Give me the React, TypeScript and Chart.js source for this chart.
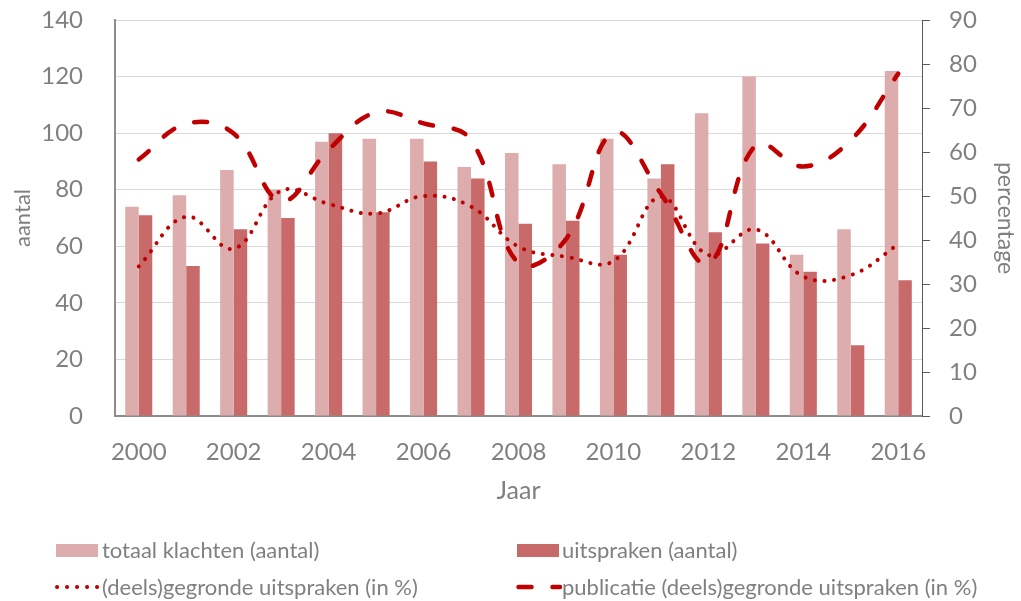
import React, { useEffect, useRef } from "react";
import { Chart, registerables } from "chart.js";

Chart.register(...registerables);

const years = ["2000","2001","2002","2003","2004","2005","2006","2007","2008","2009","2010","2011","2012","2013","2014","2015","2016"];
const totaalKlachten = [74, 78, 87, 80, 97, 98, 98, 88, 93, 89, 98, 84, 107, 120, 57, 66, 122];
const uitspraken = [71, 53, 66, 70, 100, 72, 90, 84, 68, 69, 57, 89, 65, 61, 51, 25, 48];
const gegrondePct = [34, 45.3, 38, 51.2, 48.2, 46, 50, 47.6, 38.5, 36.2, 35.2, 49.8, 36.6, 42.4, 31.7, 32, 39];
const publicatiePct = [58.3, 66.4, 64.2, 48.9, 60.5, 69, 66.5, 62.7, 34.7, 40.2, 64.4, 50.5, 34.7, 61.6, 56.7, 62.7, 77.8];
const leftTicks = [0, 20, 40, 60, 80, 100, 120, 140];
const rightTicks = [0, 10, 20, 30, 40, 50, 60, 70, 80, 90];

const LIGHT = "#DDADAD";
const DARK = "#C86A6A";
const LINE = "#C00000";
const TEXT = "#808080";
const FONT = "Lato, 'Open Sans', sans-serif";

export default function App() {
  const ref = useRef<HTMLCanvasElement | null>(null);

  useEffect(() => {
    if (!ref.current) return;
    const chart = new Chart(ref.current, {
      type: "bar",
      data: {
        labels: years,
        datasets: [
          {
            type: "line",
            label: "(deels)gegronde uitspraken (in %)",
            data: gegrondePct,
            yAxisID: "y2",
            borderColor: LINE,
            borderWidth: 4,
            borderDash: [0.1, 9.6],
            borderCapStyle: "round",
            pointRadius: 0,
            tension: 0.4,
            fill: false,
            order: 0,
          },
          {
            type: "line",
            label: "publicatie (deels)gegronde uitspraken (in %)",
            data: publicatiePct,
            yAxisID: "y2",
            borderColor: LINE,
            borderWidth: 4.5,
            borderDash: [13, 21],
            borderCapStyle: "round",
            pointRadius: 0,
            tension: 0.4,
            fill: false,
            order: 0,
          },
          {
            type: "bar",
            label: "totaal klachten (aantal)",
            data: totaalKlachten,
            yAxisID: "y",
            backgroundColor: LIGHT,
            barPercentage: 1,
            categoryPercentage: 0.57,
            order: 1,
          },
          {
            type: "bar",
            label: "uitspraken (aantal)",
            data: uitspraken,
            yAxisID: "y",
            backgroundColor: DARK,
            barPercentage: 1,
            categoryPercentage: 0.57,
            order: 1,
          },
        ],
      },
      options: {
        responsive: false,
        animation: false,
        layout: { padding: { top: 20, bottom: 95, left: 0, right: 0 } },
        plugins: {
          legend: { display: false },
          tooltip: { enabled: false },
        },
        scales: {
          x: {
            type: "category",
            offset: true,
            grid: { color: "transparent", drawTicks: false },
            border: { display: true, color: "#8C8C8C", width: 2 },
            ticks: {
              autoSkip: false,
              maxRotation: 0,
              minRotation: 0,
              padding: 22,
              color: TEXT,
              font: { family: FONT, size: 24 },
              callback: (_v: any, i: number) => (i % 2 === 0 ? years[i] : ""),
            },
            title: {
              display: true,
              text: "Jaar",
              color: TEXT,
              font: { family: FONT, size: 25 },
              padding: { top: 0, bottom: 0 },
            },
            afterFit: (s: any) => {
              s.height = 90;
            },
          },
          y: {
            position: "left",
            min: 0,
            max: 140,
            afterBuildTicks: (s: any) => {
              s.ticks = leftTicks.map((v) => ({ value: v }));
            },
            grid: { color: "#D9D9D9", lineWidth: 1, drawTicks: false },
            border: { display: true, color: "#8C8C8C", width: 2 },
            ticks: {
              padding: 32,
              color: TEXT,
              font: { family: FONT, size: 24 },
            },
            title: {
              display: true,
              text: "aantal",
              color: TEXT,
              font: { family: FONT, size: 22 },
              padding: { top: 10, bottom: 0 },
            },
            afterFit: (s: any) => {
              s.width = 115;
              s.paddingTop = 0;
              s.paddingBottom = 0;
            },
          },
          y2: {
            position: "right",
            min: 0,
            max: 90,
            afterBuildTicks: (s: any) => {
              s.ticks = rightTicks.map((v) => ({ value: v }));
            },
            grid: {
              drawOnChartArea: false,
              drawTicks: true,
              tickLength: 8,
              color: "#595959",
              lineWidth: 1,
            },
            border: { display: true, color: "#595959", width: 1 },
            ticks: {
              padding: 19,
              color: TEXT,
              font: { family: FONT, size: 24 },
            },
            title: {
              display: true,
              text: "percentage",
              color: TEXT,
              font: { family: FONT, size: 23 },
              padding: { top: 2, bottom: 0 },
            },
            afterFit: (s: any) => {
              s.width = 99;
              s.paddingTop = 0;
              s.paddingBottom = 0;
            },
          },
        },
      },
    });
    return () => chart.destroy();
  }, []);

  const textStyle: React.CSSProperties = {
    position: "absolute",
    fontFamily: FONT,
    fontSize: 22,
    color: TEXT,
    lineHeight: "26px",
    whiteSpace: "nowrap",
  };

  return (
    <div style={{ position: "absolute", left: 0, top: 0, width: 1021, height: 601, background: "#fff" }}>
      <canvas ref={ref} width={1021} height={601} style={{ display: "block" }} />
      {/* legend */}
      <div style={{ position: "absolute", left: 56, top: 544, width: 42, height: 13, background: LIGHT }} />
      <div style={{ ...textStyle, left: 102, top: 537 }}>totaal klachten (aantal)</div>
      <div style={{ position: "absolute", left: 517, top: 544, width: 42, height: 13, background: DARK }} />
      <div style={{ ...textStyle, left: 562, top: 537 }}>uitspraken (aantal)</div>
      <svg style={{ position: "absolute", left: 50, top: 580 }} width={52} height={14}>
        <line x1={7} y1={7} x2={48} y2={7} stroke={LINE} strokeWidth={4} strokeLinecap="round" strokeDasharray="0.1 9.9" />
      </svg>
      <div style={{ ...textStyle, left: 102, top: 574 }}>(deels)gegronde uitspraken (in %)</div>
      <svg style={{ position: "absolute", left: 510, top: 580 }} width={52} height={14}>
        <line x1={8.5} y1={7} x2={50} y2={7} stroke={LINE} strokeWidth={4.5} strokeLinecap="round" strokeDasharray="13 21" />
      </svg>
      <div style={{ ...textStyle, left: 562, top: 574 }}>publicatie (deels)gegronde uitspraken (in %)</div>
    </div>
  );
}
